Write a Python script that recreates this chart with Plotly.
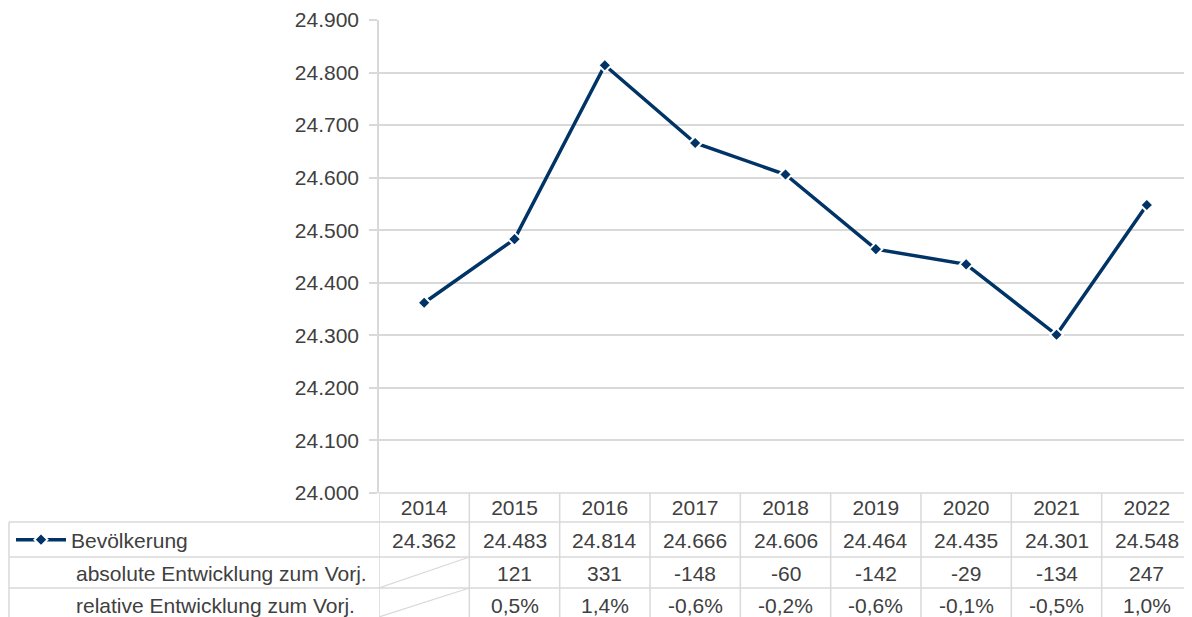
import plotly.graph_objects as go

years = ["2014", "2015", "2016", "2017", "2018", "2019", "2020", "2021", "2022"]
population = [24362, 24483, 24814, 24666, 24606, 24464, 24435, 24301, 24548]
abs_change = [None, 121, 331, -148, -60, -142, -29, -134, 247]
rel_change = [None, 0.5, 1.4, -0.6, -0.2, -0.6, -0.1, -0.5, 1.0]
row_labels = ["Bevölkerung", "absolute Entwicklung zum Vorj.", "relative Entwicklung zum Vorj."]
y_ticks = [24000, 24100, 24200, 24300, 24400, 24500, 24600, 24700, 24800, 24900]

OFF = 8  # page body margin
W, H = 1192 - OFF, 617 - OFF
L, R, T, B = 379 - OFF, 0, 20 - OFF, 124
PW, PH = W - L - R, H - T - B
GRID = "#d9d9d9"
TXT = "#404040"
NAVY = "#003366"
FONT = "Liberation Sans"
FS = 21


def py(p):
    # window pixel -> paper y
    return (H - B - (p - OFF)) / PH


def px(p):
    # window pixel -> paper x
    return (p - OFF - L) / PW


def fmt_int(v):
    return f"{v:,}".replace(",", ".")


fig = go.Figure()
fig.add_trace(go.Scatter(
    x=years, y=population, mode="lines+markers", name=row_labels[0],
    line=dict(color=NAVY, width=3.5),
    marker=dict(symbol="diamond", size=10, color=NAVY, line=dict(color="white", width=2)),
))

shapes = []
row_edges = [522, 557, 588, 617]
shapes.append(dict(type="line", xref="paper", yref="paper", x0=0, x1=1, y0=py(493), y1=py(493),
                   line=dict(color=GRID, width=1.5)))
for yy in row_edges[:3]:
    shapes.append(dict(type="line", xref="paper", yref="paper", x0=px(9), x1=1, y0=py(yy), y1=py(yy),
                       line=dict(color=GRID, width=1.5)))
shapes.append(dict(type="line", xref="paper", yref="paper", x0=px(9), x1=px(9), y0=py(522), y1=py(617),
                   line=dict(color=GRID, width=1.5)))
for i in range(len(years) + 1):
    shapes.append(dict(type="line", xref="x", yref="paper", x0=i - 0.5, x1=i - 0.5,
                       y0=py(493), y1=py(617), line=dict(color=GRID, width=1.5)))
for i, v in enumerate(abs_change):
    if v is None:
        shapes.append(dict(type="line", xref="x", yref="paper", x0=i - 0.5, x1=i + 0.5,
                           y0=py(588), y1=py(557), line=dict(color=GRID, width=1.2)))
for i, v in enumerate(rel_change):
    if v is None:
        shapes.append(dict(type="line", xref="x", yref="paper", x0=i - 0.5, x1=i + 0.5,
                           y0=py(617), y1=py(588), line=dict(color=GRID, width=1.2)))

annotations = []
row_centers = [540, 573, 605]
cell_font = dict(family=FONT, size=FS, color=TXT)
for lab, yc in zip(row_labels[1:], row_centers[1:]):
    annotations.append(dict(x=px(74), y=py(yc), xref="paper", yref="paper", text=lab,
                            showarrow=False, xanchor="left", yanchor="middle", font=cell_font))
for i, yr in enumerate(years):
    annotations.append(dict(x=i, y=py(row_centers[0]), xref="x", yref="paper",
                            text=fmt_int(population[i]), showarrow=False,
                            xanchor="center", yanchor="middle", font=cell_font))
    if abs_change[i] is not None:
        annotations.append(dict(x=i, y=py(row_centers[1]), xref="x", yref="paper",
                                text=str(abs_change[i]), showarrow=False,
                                xanchor="center", yanchor="middle", font=cell_font))
    if rel_change[i] is not None:
        annotations.append(dict(x=i, y=py(row_centers[2]), xref="x", yref="paper",
                                text=f"{rel_change[i]:.1f}%".replace(".", ","), showarrow=False,
                                xanchor="center", yanchor="middle", font=cell_font))

fig.update_layout(
    width=W, height=H,
    margin=dict(l=L, r=R, t=T, b=B),
    paper_bgcolor="white", plot_bgcolor="white",
    separators=",.",
    font=dict(family=FONT, size=FS, color=TXT),
    showlegend=True,
    legend=dict(x=px(11), y=py(540), xanchor="left", yanchor="middle",
                bgcolor="rgba(0,0,0,0)", itemwidth=50,
                font=dict(family=FONT, size=FS, color=TXT)),
    shapes=shapes,
    annotations=annotations,
    xaxis=dict(type="category", range=[-0.5, len(years) - 0.5], showgrid=False,
               showline=False, zeroline=False, ticks="",
               tickfont=dict(family=FONT, size=FS, color=TXT)),
    yaxis=dict(range=[24000, 24900], tickvals=y_ticks, tickformat=",d",
               showgrid=True, gridcolor=GRID, gridwidth=1.5,
               showline=True, linecolor=GRID, linewidth=1.5,
               ticks="outside", ticklen=8, tickcolor=GRID, tickwidth=1.5,
               ticklabelstandoff=6,
               zeroline=False, tickfont=dict(family=FONT, size=FS, color=TXT)),
)

fig.write_html("out.html")
